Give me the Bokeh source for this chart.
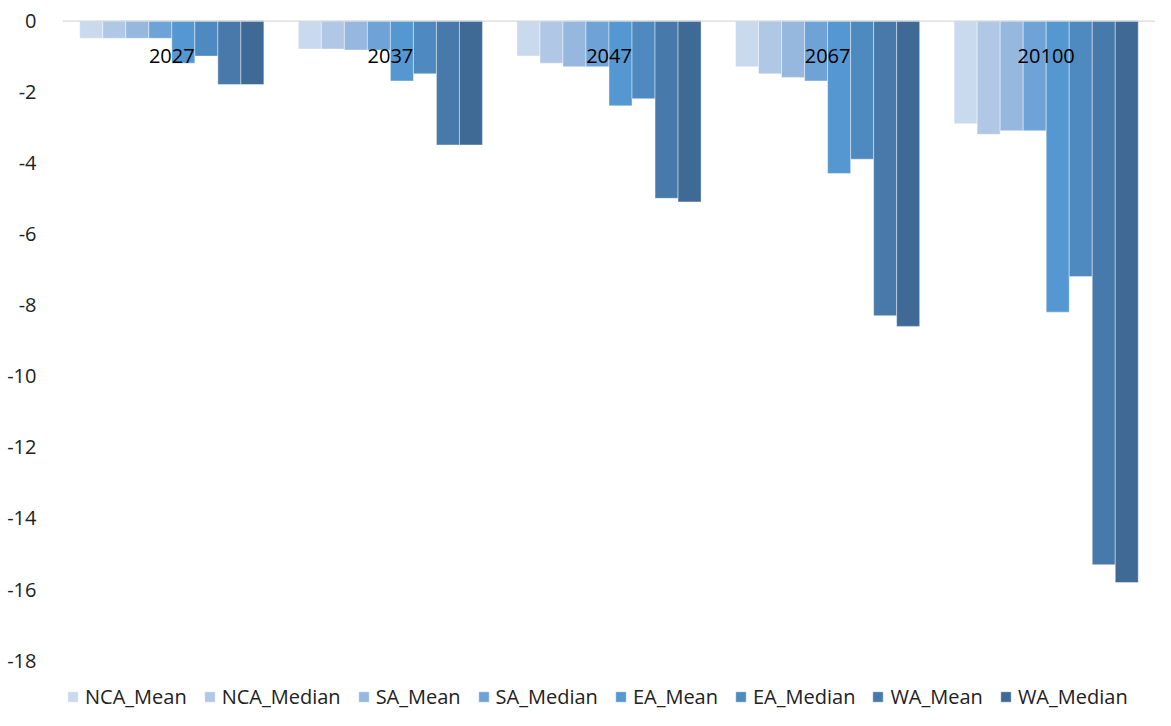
from bokeh.plotting import figure
from bokeh.models import ColumnDataSource, FactorRange, Range1d, Legend, LegendItem, FixedTicker, Span
from bokeh.transform import dodge
from bokeh.core.properties import value
from bokeh.embed import file_html
from bokeh.resources import INLINE

years = ["2027", "2037", "2047", "2067", "20100"]
series = ["NCA_Mean", "NCA_Median", "SA_Mean", "SA_Median", "EA_Mean", "EA_Median", "WA_Mean", "WA_Median"]
NCA_Mean = [-0.5, -0.8, -1.0, -1.3, -2.9]
NCA_Median = [-0.5, -0.8, -1.2, -1.5, -3.2]
SA_Mean = [-0.5, -0.83, -1.3, -1.6, -3.1]
SA_Median = [-0.5, -0.83, -1.3, -1.7, -3.1]
EA_Mean = [-1.2, -1.7, -2.4, -4.3, -8.2]
EA_Median = [-1.0, -1.5, -2.2, -3.9, -7.2]
WA_Mean = [-1.8, -3.5, -5.0, -8.3, -15.3]
WA_Median = [-1.8, -3.5, -5.1, -8.6, -15.8]
y_ticks = [0, -2, -4, -6, -8, -10, -12, -14, -16, -18]
colors = ["#c9d9ee", "#b0c8e6", "#96b8df", "#6fa3d8", "#5597d0", "#4e89bf", "#477aaa", "#3f6a96"]

data = {"year": years, "NCA_Mean": NCA_Mean, "NCA_Median": NCA_Median, "SA_Mean": SA_Mean,
        "SA_Median": SA_Median, "EA_Mean": EA_Mean, "EA_Median": EA_Median,
        "WA_Mean": WA_Mean, "WA_Median": WA_Median}
source = ColumnDataSource(data)

FONT = "Open Sans"

# frame extends below -18 to leave room for the legend inside the frame
p = figure(x_range=FactorRange(*years), y_range=Range1d(-19.4, 0),
           width=1155, height=710, output_backend="svg", toolbar_location=None,
           min_border_left=62, min_border_right=0,
           min_border_top=20, min_border_bottom=0)
p.outline_line_color = None
p.xgrid.grid_line_color = None
p.ygrid.grid_line_color = None
p.xaxis.visible = False

bar_w = 0.1053
renderers = []
for i, (s, c) in enumerate(zip(series, colors)):
    r = p.vbar(x=dodge("year", (i - 3.5) * bar_w, range=p.x_range), top=s, bottom=0,
               width=bar_w, source=source, fill_color=c, line_color="white",
               line_width=0.6, line_alpha=0.7)
    renderers.append(r)

p.add_layout(Span(location=0, dimension="width", line_color="#d9d9d9", line_width=2.5))

label_src = ColumnDataSource({"year": years, "ly": [-1.0] * len(years)})
p.text(x="year", y="ly", text="year", source=label_src, text_align="center",
       text_baseline="middle", text_font=value(FONT), text_font_size="20px",
       text_color="#000000")

ya = p.yaxis[0]
ya.ticker = FixedTicker(ticks=y_ticks)
ya.major_label_overrides = {t: str(t) for t in y_ticks}
ya.axis_line_color = None
ya.major_tick_line_color = None
ya.minor_tick_line_color = None
ya.major_label_text_font = FONT
ya.major_label_text_font_size = "20px"
ya.major_label_text_color = "#222222"
ya.major_label_standoff = 20

legend = Legend(items=[LegendItem(label=s, renderers=[r]) for s, r in zip(series, renderers)],
                orientation="horizontal", location=(4, 0))
legend.label_text_font = FONT
legend.label_text_font_size = "20px"
legend.label_text_color = "#222222"
legend.glyph_width = 13
legend.glyph_height = 13
legend.label_standoff = 6
legend.spacing = 16
legend.border_line_color = None
legend.background_fill_alpha = 0
legend.padding = 1
legend.margin = 0
p.add_layout(legend, "center")

open("out.html", "w").write(file_html(p, INLINE))
